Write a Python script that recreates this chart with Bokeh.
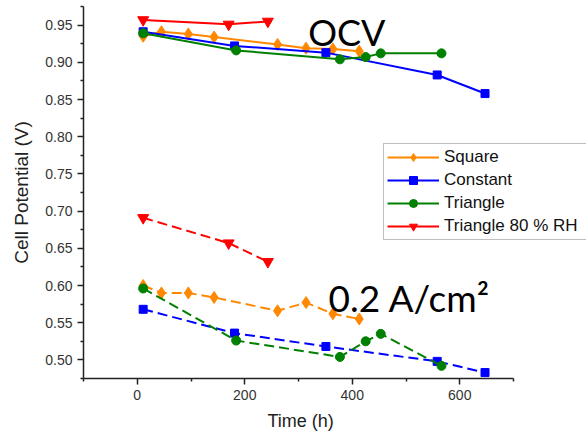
from bokeh.plotting import figure
from bokeh.models import Legend, LegendItem, Label, FixedTicker, Range1d, NumeralTickFormatter, Title
from bokeh.embed import file_html
from bokeh.resources import INLINE

# ---------------- data ----------------
series_names = ["Square", "Constant", "Triangle", "Triangle 80 % RH"]

sq_time = [11, 45, 95, 143, 261, 314, 364, 413]
sq_ocv = [0.935, 0.941, 0.938, 0.934, 0.924, 0.919, 0.918, 0.915]
sq_load = [0.600, 0.590, 0.590, 0.584, 0.566, 0.577, 0.562, 0.555]

con_time = [11, 181, 351, 558, 647]
con_ocv = [0.941, 0.922, 0.913, 0.883, 0.858]
con_load = [0.568, 0.536, 0.518, 0.498, 0.483]

tri_time = [11, 184, 377, 425, 453, 566]
tri_ocv = [0.939, 0.916, 0.904, 0.907, 0.912, 0.912]
tri_load = [0.596, 0.526, 0.504, 0.525, 0.535, 0.492]

rh_time = [11, 170, 243]
rh_ocv = [0.957, 0.951, 0.955]
rh_load = [0.691, 0.657, 0.632]

x_major_ticks = [0, 200, 400, 600]
x_minor_ticks = [-100, 100, 300, 500, 700]
y_major_ticks = [0.50, 0.55, 0.60, 0.65, 0.70, 0.75, 0.80, 0.85, 0.90, 0.95]
y_minor_ticks = [0.475, 0.525, 0.575, 0.625, 0.675, 0.725, 0.775, 0.825, 0.875, 0.925, 0.975]
x_axis_bounds = (-100, 700)

x_title = "Time (h)"
y_title = "Cell Potential (V)"
ocv_text = "OCV"
load_text = "0.2 A/cm\u00b2"

# ---------------- figure ----------------
# frame extends to the right edge so the legend box is not clipped;
# the x axis itself is bounded to -100..700
p = figure(width=586, height=438,
           x_range=Range1d(-100, 835.8), y_range=Range1d(0.475, 0.975),
           output_backend="svg", toolbar_location=None,
           min_border_left=83, min_border_right=0,
           min_border_top=6, min_border_bottom=60)
p.outline_line_color = None
p.xgrid.visible = False
p.ygrid.visible = False
p.background_fill_color = "white"
p.border_fill_color = "white"

for ax in (p.xaxis[0], p.yaxis[0]):
    ax.axis_line_color = "#222222"
    ax.axis_line_width = 1.5
    ax.major_tick_line_color = "#222222"
    ax.minor_tick_line_color = "#222222"
    ax.major_tick_line_width = 1.5
    ax.minor_tick_line_width = 1.5
    ax.major_tick_in = 0
    ax.major_tick_out = 6
    ax.minor_tick_in = 0
    ax.minor_tick_out = 3
    ax.major_label_text_font = "Liberation Sans"
    ax.major_label_text_font_size = "14px"
    ax.major_label_text_color = "#333333"
    ax.major_label_standoff = 5
    ax.axis_label_text_font = "Liberation Sans"
    ax.axis_label_text_font_style = "normal"
    ax.axis_label_text_color = "#222222"
    ax.axis_label_standoff = 10

p.yaxis.axis_label_text_font_size = "19px"
p.xaxis.bounds = x_axis_bounds
p.xaxis.ticker = FixedTicker(ticks=x_major_ticks, minor_ticks=x_minor_ticks)
p.yaxis.ticker = FixedTicker(ticks=y_major_ticks, minor_ticks=y_minor_ticks)
p.yaxis.formatter = NumeralTickFormatter(format="0.00")
p.yaxis.axis_label = y_title

# x title centred under the bounded axis (not under the wider frame)
p.add_layout(Title(text=x_title, align="left", offset=184,
                   text_font="Liberation Sans", text_font_size="18px",
                   text_font_style="normal", text_color="#222222",
                   standoff=13), "below")

orange = "#FF8800"
blue = "#0000FF"
green = "#008000"
red = "#FF0000"

specs = [
    (sq_time, sq_ocv, sq_load, orange, "diamond", 12),
    (con_time, con_ocv, con_load, blue, "square", 8),
    (tri_time, tri_ocv, tri_load, green, "circle", 9),
    (rh_time, rh_ocv, rh_load, red, "inverted_triangle", 11),
]

items = []
for name, (t, ocv, load, col, mk, sz) in zip(series_names, specs):
    l1 = p.line(t, ocv, line_color=col, line_width=2)
    s1 = p.scatter(t, ocv, marker=mk, size=sz, fill_color=col, line_color=col)
    p.line(t, load, line_color=col, line_width=2, line_dash="10 5")
    p.scatter(t, load, marker=mk, size=sz, fill_color=col, line_color=col)
    items.append(LegendItem(label=name, renderers=[l1, s1]))

legend = Legend(items=items, location=(300, 138),
                padding=3, spacing=3, margin=0,
                label_height=20, glyph_height=20, glyph_width=52,
                label_standoff=5, label_width=150,
                label_text_font="Liberation Sans", label_text_font_size="17px",
                label_text_color="#111111",
                border_line_color="#808080", border_line_width=1,
                background_fill_color="white", background_fill_alpha=1)
p.add_layout(legend)

p.add_layout(Label(x=318, y=0.941, text=ocv_text, text_font="Lato",
                   text_font_size="36px", text_color="black",
                   text_baseline="alphabetic", text_align="left"))
p.add_layout(Label(x=356, y=0.5845, text=load_text, text_font="Lato",
                   text_font_size="37px", text_color="black",
                   text_baseline="alphabetic", text_align="left"))

open("out.html", "w").write(file_html(p, INLINE))
